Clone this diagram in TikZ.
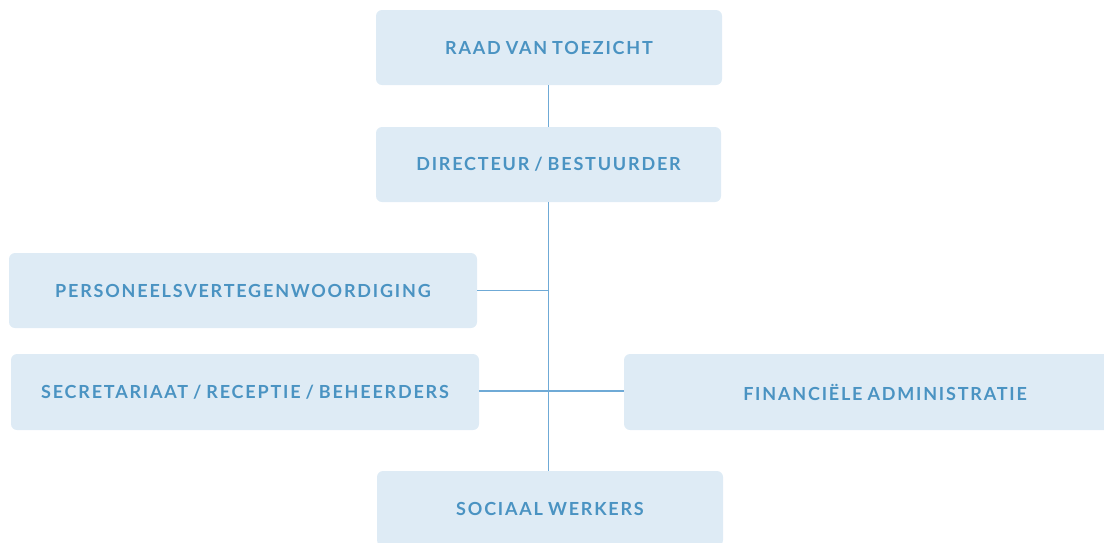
\documentclass[tikz,border=0pt]{standalone}
\usepackage{fontspec}
\setmainfont{Lato}[LetterSpace=10,WordSpace=0.8]
\definecolor{boxfill}{HTML}{DEEBF5}
\definecolor{boxtext}{HTML}{4A93C2}
\definecolor{linkcol}{HTML}{6FAAD6}
\begin{document}
\begin{tikzpicture}[x=1pt,y=-1pt,
  orgbox/.style={fill=boxfill, draw=none, rounded corners=6pt, inner sep=0pt,
    text=boxtext, font=\fontsize{18}{22}\selectfont\bfseries},
  link/.style={draw=linkcol, line width=1.1pt}]
\useasboundingbox (0,0) rectangle (1104,542);
\begin{scope}
\clip (0,0) rectangle (1104,542);
\node[orgbox, minimum width=346pt, minimum height=75pt] (raad) at (549,47.5) {RAAD VAN TOEZICHT};
\node[orgbox, minimum width=345pt, minimum height=75pt] (dir) at (548.5,164.5) {DIRECTEUR / BESTUURDER};
\node[orgbox, minimum width=468pt, minimum height=75pt] (pers) at (243,290.5) {PERSONEELSVERTEGENWOORDIGING};
\node[orgbox, minimum width=468pt, minimum height=76pt] (secr) at (245,392) {SECRETARIAAT / RECEPTIE / BEHEERDERS};
\node[orgbox, minimum width=522pt, minimum height=76pt] (fin) at (885,392) {FINANCIËLE ADMINISTRATIE};
\node[orgbox, minimum width=346pt, minimum height=75pt] (soc) at (550,508.5) {SOCIAAL WERKERS};
\end{scope}
\coordinate (j1) at (548.5,290.5);
\coordinate (j2) at (548.5,391);
\draw[link] (raad.south -| j1) -- (dir.north -| j1);
\draw[link] (dir.south -| j1) -- (soc.north -| j1);
\draw[link] (pers.east) -- (j1);
\draw[link] (secr.east |- j2) -- (fin.west |- j2);
\end{tikzpicture}
\end{document}
